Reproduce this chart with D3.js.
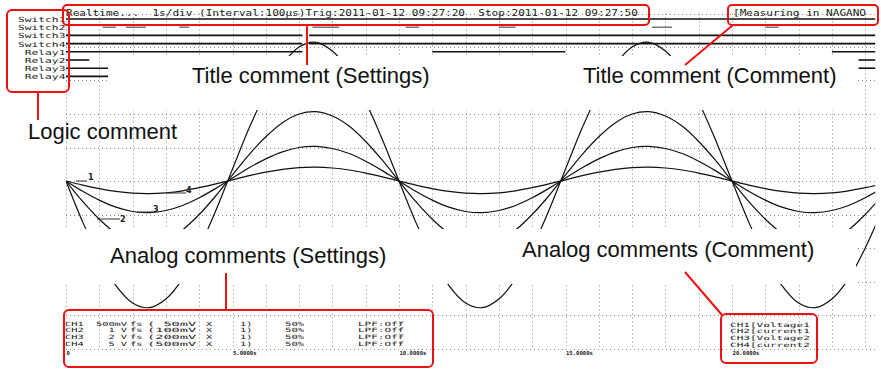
<!DOCTYPE html>
<html><head><meta charset="utf-8">
<script src="https://cdn.jsdelivr.net/npm/d3@7"></script>
<style>
html,body{margin:0;padding:0;background:#fff;}
svg{display:block;}
text{white-space:pre;}
</style></head><body>
<svg id="chart" width="881" height="372"></svg>
<script>
// ---------------- DATA ----------------
const timeDomain = [0, 24.3];            // seconds shown (1 s/div)
const sampleStep = 0.5;                  // seconds between samples
// measured signal (mV), identical on every analog channel, read every 0.5 s
const signalMv = [0,-61,-114,-156,-182,-189,-176,-146,-100,-44,18,79,132,174,200,207,194,164,118,62,
                  0,-61,-114,-156,-182,-189,-176,-146,-100,-44,18,79,132,174,200,207,194,164,118,62,
                  0,-61,-114,-156,-182,-189,-176,-146,-100,-44];
const channelNames = ["CH1","CH2","CH3","CH4"];
const channelMvPerDiv = [50,100,200,500];
const channelRange = ["500mV","  1 V","  2 V","  5 V"];
const channelDiv = [" 50mV","100mV","200mV","500mV"];
const channelComments = ["Voltage1","current1","Voltage2","current2"];
const timeTicks = [0,5,10,15,20];
const logicNames = ["Switch1","Switch2","Switch3","Switch4","Relay1","Relay2","Relay3","Relay4"];
const logicHighSpans = [
  [[0,24.3]],
  [[1.1,1.5],[1.8,2.4],[3.4,3.7],[7.4,8.2],[10.2,10.6],[13.0,13.5],[17.6,18.2],[21.0,21.4]],
  [[0,7.1],[7.3,24.3]],
  [[0,7.1],[7.3,24.3]],
  [[0,7.1],[11.0,15.0],[23.0,24.3]],
  [[0,0.7],[23.8,24.3]],
  [[0,1.3],[23.8,24.3]],
  [[0,1.3]]
];
const titleText = "Realtime...  1s/div (Interval:100\u00b5s)Trig:2011-01-12 09:27:20  Stop:2011-01-12 09:27:50";
const titleComment = "[Measuring in NAGANO";

// ---------------- DRAW ----------------
const svg = d3.select("#chart");
svg.append("rect").attr("width",881).attr("height",372).attr("fill","#fff");

const x = d3.scaleLinear().domain(timeDomain).range([66, 875.2]);
const div = d3.scaleLinear().domain([-5,5]).range([348.5, 13.5]);

function mono(g, str, x0, y0, size, adv, fill){
  return g.append("text").attr("x",x0).attr("y",y0)
    .attr("font-family","DejaVu Sans Mono").attr("font-size",size)
    .attr("textLength", str.length*adv).attr("lengthAdjust","spacingAndGlyphs")
    .attr("fill", fill||"#1a1a1a").text(str);
}

// grid
const grid = svg.append("g").attr("stroke","#8c8c8c").attr("stroke-width",1).attr("stroke-dasharray","1,3");
grid.selectAll("line.v").data(d3.range(0,25)).join("line")
  .attr("x1",d=>Math.round(x(d))+0.5).attr("x2",d=>Math.round(x(d))+0.5)
  .attr("y1",div(5)).attr("y2",div(-5));
grid.selectAll("line.h").data(d3.range(-5,6)).join("line")
  .attr("y1",d=>Math.round(div(d))+0.5).attr("y2",d=>Math.round(div(d))+0.5)
  .attr("x1",x(0)).attr("x2",x(timeDomain[1]));

// logic traces
const ly = d3.scalePoint().domain(logicNames).range([19, 76.4]);
const logicG = svg.append("g");
logicNames.forEach((n,i)=>{
  logicG.selectAll(null).data(logicHighSpans[i]).join("line")
    .attr("x1",d=>x(d[0])).attr("x2",d=>x(d[1]))
    .attr("y1",ly(n)).attr("y2",ly(n))
    .attr("stroke", i===1 ? "#555" : "#111").attr("stroke-width", i===1 ? 1.2 : 1.6);
  mono(logicG, n, 65.5 - n.length*6.8, ly(n)+3, 7, 6.8);
});

// analog curves
svg.append("clipPath").attr("id","pc").append("rect")
  .attr("x",x(0)).attr("y",0).attr("width",x(timeDomain[1])-x(0)).attr("height",372);
const tValues = signalMv.map((_,i)=>i*sampleStep);
const curveG = svg.append("g").attr("clip-path","url(#pc)");
channelNames.forEach((c,i)=>{
  const y = d3.scaleLinear().domain([-5*channelMvPerDiv[i], 5*channelMvPerDiv[i]]).range([348.5, 13.5]);
  const line = d3.line().x((d,j)=>x(tValues[j])).y(d=>y(d)).curve(d3.curveCatmullRom);
  curveG.append("path").datum(signalMv).attr("d",line)
    .attr("fill","none").attr("stroke","#111").attr("stroke-width",1.2);
});

// channel number markers
const marks = [
  {t:"1", lx1:76, lx2:87, ly:181, tx:88, ty:180},
  {t:"2", lx1:97, lx2:120, ly:219, tx:120, ty:222},
  {t:"3", lx1:137, lx2:153, ly:212, tx:153, ty:212},
  {t:"4", lx1:167, lx2:186, ly:193, tx:186, ty:193}
];
const mk = svg.append("g");
marks.forEach(m=>{
  mk.append("line").attr("x1",m.lx1).attr("x2",m.lx2).attr("y1",m.ly).attr("y2",m.ly).attr("stroke","#333").attr("stroke-width",1);
  mk.append("text").attr("x",m.tx).attr("y",m.ty).attr("font-family","DejaVu Sans").attr("font-size",8).attr("font-weight","bold").attr("fill","#222").text(m.t);
});

// title (printout header)
const head = svg.append("g");
mono(head, titleText, 66, 16, 8.5, 6.65);
mono(head, titleComment, 733, 16, 8.5, 6.65);

// white bands (cut-outs for annotation labels)
svg.append("rect").attr("x",108).attr("y",56).attr("width",749).attr("height",54).attr("fill","#fff");
svg.append("rect").attr("x",0).attr("y",229).attr("width",856).attr("height",55).attr("fill","#fff");

// bottom printout texts
const bot = svg.append("g");
const fs = 5.8;
channelNames.forEach((c,i)=>{
  const by = 325.5 + i*6.7;
  mono(bot, c, 65, by, fs, 6.2);
  mono(bot, channelRange[i], 96, by, fs, 6.2);
  mono(bot, "fs", 130, by, fs, 6.2);
  mono(bot, "(" + channelDiv[i], 147, by, fs, 8.2);
  mono(bot, "X", 206, by, fs, 6.2);
  mono(bot, "1)", 240, by, fs, 6.2);
  mono(bot, "50%", 285, by, fs, 6.4);
  mono(bot, "LPF:Off", 358, by, fs, 6.6);
  mono(bot, c + "[" + channelComments[i], 730, 326.5 + i*6.7, fs, 6.65);
});

// time axis
const axis = d3.axisBottom(x).tickValues(timeTicks).tickSize(0)
  .tickFormat(d => d===0 ? "0" : d.toFixed(4)+"s");
const ax = svg.append("g").attr("transform","translate(0,349)").call(axis);
ax.select(".domain").remove();
ax.selectAll("text").attr("text-anchor","start").attr("dy",0).attr("y",5.5)
  .attr("font-family","DejaVu Sans Mono").attr("font-size",5.6).attr("font-weight","bold").attr("fill","#222");

// red annotation boxes and leaders
const red = "#ee1111";
const ann = svg.append("g").attr("fill","none").attr("stroke",red).attr("stroke-width",2);
[[7,10,62,82,5],[63,5,586,20,4],[728,5,150,20,4],[64,310,369,57,5],[721,314,96,49,5]].forEach(b=>{
  ann.append("rect").attr("x",b[0]).attr("y",b[1]).attr("width",b[2]).attr("height",b[3]).attr("rx",b[4]);
});
[[38,92,38,120],[307,25,307,65],[733,25,685,65],[226,273,226,310],[685,272,722,315]].forEach(l=>{
  ann.append("line").attr("x1",l[0]).attr("y1",l[1]).attr("x2",l[2]).attr("y2",l[3]);
});

const lab = svg.append("g").attr("font-family","Liberation Sans, Arial, sans-serif").attr("font-size",22).attr("fill","#111");
lab.append("text").attr("x",28).attr("y",139).text("Logic comment");
lab.append("text").attr("x",192).attr("y",83).text("Title comment (Settings)");
lab.append("text").attr("x",583).attr("y",83).text("Title comment (Comment)");
lab.append("text").attr("x",110).attr("y",263).text("Analog comments (Settings)");
lab.append("text").attr("x",522).attr("y",257).text("Analog comments (Comment)");
</script>
</body></html>
